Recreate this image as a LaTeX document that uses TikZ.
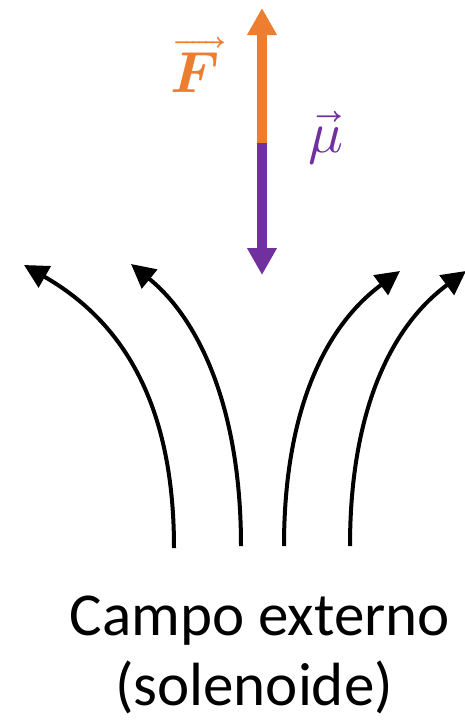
\documentclass[tikz,border=0pt]{standalone}
\usepackage{amsmath}
\usepackage{unicode-math}
\setmainfont{Carlito}
\setmathfont{Latin Modern Math}
\usetikzlibrary{arrows.meta}
\definecolor{forceorange}{HTML}{ED7D31}
\definecolor{mupurple}{HTML}{7030A0}
\begin{document}
\begin{tikzpicture}[x=1pt,y=-1pt,
  fieldline/.style={line width=4pt,-{Triangle[length=24pt,width=24pt]}},
  vecarrow/.style={line width=10pt,-{Triangle[length=27pt,width=28pt]}},
  label/.style={inner sep=0pt,font=\fontsize{61}{72}\selectfont},
  veclabel/.style={inner sep=0pt,font=\fontsize{58}{64}\selectfont}]
\useasboundingbox (0,0) rectangle (465,720);
% vertical vectors
\coordinate (mid) at (262,143);
\coordinate (ftip) at (262,8);
\coordinate (mtip) at (262,275);
\draw[vecarrow,forceorange] (mid) -- (ftip);
\draw[vecarrow,mupurple] (mid) -- (mtip);
\node[veclabel,text=forceorange] (F) at (195,65) {$\overrightarrow{\symbfit{F}}$};
\node[veclabel,text=mupurple] (mu) at (326,138) {$\vec{\mu}$};
% field lines
\coordinate (a0) at (174,548); \coordinate (a1) at (24,265);
\coordinate (b0) at (241,546); \coordinate (b1) at (131,264);
\coordinate (c0) at (284,546); \coordinate (c1) at (400,271);
\coordinate (d0) at (350,546); \coordinate (d1) at (466,271);
\draw[fieldline] (a0) .. controls (174,400) and (120,320) .. (a1);
\draw[fieldline] (b0) .. controls (241,410) and (200,320) .. (b1);
\draw[fieldline] (c0) .. controls (284,420) and (320,330) .. (c1);
\draw[fieldline] (d0) .. controls (350,420) and (386,330) .. (d1);
% caption
\node[label,anchor=base] (t1) at (260,635) {Campo externo};
\node[label,anchor=base] (t2) at (254,705) {(solenoide)};
\end{tikzpicture}
\end{document}
